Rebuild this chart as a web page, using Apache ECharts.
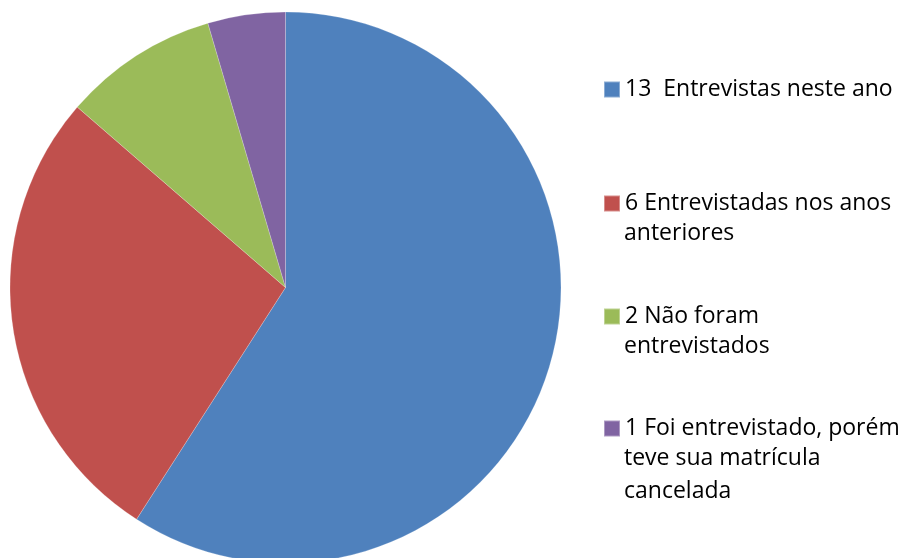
<!DOCTYPE html>
<html>
<head>
<meta charset="utf-8">
<script src="https://cdn.jsdelivr.net/npm/echarts@6/dist/echarts.min.js"></script>
<style>
  html, body { margin: 0; padding: 0; background: #fff; }
  #chart { width: 909px; height: 558px; }
</style>
</head>
<body>
<div id="chart"></div>
<script>
// dados
var categories = [
  "13  Entrevistas neste ano",
  "6 Entrevistadas nos anos anteriores",
  "2 Não foram entrevistados",
  "1 Foi entrevistado, porém teve sua matrícula cancelada"
];
var values = [13, 6, 2, 1];
// linhas do texto da legenda (quebra como no original)
var legendLines = [
  ["13  Entrevistas neste ano"],
  ["6 Entrevistadas nos anos", "anteriores"],
  ["2 Não foram", "entrevistados"],
  ["1 Foi entrevistado, porém", "teve sua matrícula", "cancelada"]
];
var colors = ["#4F81BD", "#C0504D", "#9BBB59", "#8064A2"];

var FONT = "'Open Sans'";
var FONT_SIZE = 23;
var legendCenters = [86, 200, 313, 425];
var lineStep = 32.5;

const chart = echarts.init(document.getElementById("chart"));

var legends = [];
var graphics = [];
categories.forEach(function (name, i) {
  legends.push({
    data: [name],
    orient: "vertical",
    left: 603,
    top: legendCenters[i] - 8,
    padding: 0,
    itemWidth: 16,
    itemHeight: 16,
    icon: "rect",
    selectedMode: false,
    formatter: function () {
      return legendLines[i][0];
    },
    textStyle: {
      fontFamily: "Open Sans",
      fontSize: FONT_SIZE,
      color: "#000",
      lineHeight: 16,
    },
  });
  for (var k = 1; k < legendLines[i].length; k++) {
    graphics.push({
      type: "text",
      x: 624,
      y: legendCenters[i] + 1 + k * lineStep,
      style: {
        text: legendLines[i][k],
        font: FONT_SIZE + "px " + FONT,
        fill: "#000",
        verticalAlign: "middle",
      },
    });
  }
});

var option = {
  backgroundColor: "#fff",
  color: colors,
  animation: false,
  legend: legends,
  graphic: graphics,
  series: [
    {
      type: "pie",
      center: [285.5, 287.5],
      radius: 275.5,
      startAngle: 90,
      clockwise: true,
      label: { show: false },
      labelLine: { show: false },
      itemStyle: {
        borderColor: "rgba(255,255,255,0.35)",
        borderWidth: 0.6,
      },
      emphasis: { disabled: true },
      data: categories.map(function (name, i) {
        return { name: name, value: values[i] };
      }),
    },
  ],
};

chart.setOption(option);
window.onresize = chart.resize;
</script>
</body>
</html>
